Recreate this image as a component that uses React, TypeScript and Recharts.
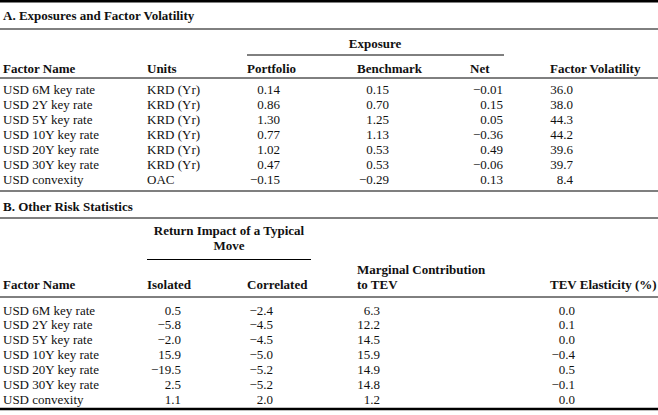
import React from 'react';
import { ScatterChart, Scatter, XAxis, YAxis, ReferenceLine } from 'recharts';

// ---------- data ----------
const factors = ['USD 6M key rate', 'USD 2Y key rate', 'USD 5Y key rate', 'USD 10Y key rate', 'USD 20Y key rate', 'USD 30Y key rate', 'USD convexity'];
const units = ['KRD (Yr)', 'KRD (Yr)', 'KRD (Yr)', 'KRD (Yr)', 'KRD (Yr)', 'KRD (Yr)', 'OAC'];
const portfolio = [0.14, 0.86, 1.3, 0.77, 1.02, 0.47, -0.15];
const benchmark = [0.15, 0.7, 1.25, 1.13, 0.53, 0.53, -0.29];
const net = [-0.01, 0.15, 0.05, -0.36, 0.49, -0.06, 0.13];
const factorVolatility = [36.0, 38.0, 44.3, 44.2, 39.6, 39.7, 8.4];
const isolated = [0.5, -5.8, -2.0, 15.9, -19.5, 2.5, 1.1];
const correlated = [-2.4, -4.5, -4.5, -5.0, -5.2, -5.2, 2.0];
const marginalContribution = [6.3, 12.2, 14.5, 15.9, 14.9, 14.8, 1.2];
const tevElasticity = [0.0, 0.1, 0.0, -0.4, 0.5, -0.1, 0.0];

const titleA = 'A. Exposures and Factor Volatility';
const titleB = 'B. Other Risk Statistics';
const headersA = ['Factor Name', 'Units', 'Portfolio', 'Benchmark', 'Net', 'Factor Volatility'];
const groupA = 'Exposure';
const headersB = ['Factor Name', 'Isolated', 'Correlated', 'to TEV', 'TEV Elasticity (%)'];
const groupB = ['Return Impact of a Typical', 'Move'];
const marginalTop = 'Marginal Contribution';

// ---------- layout ----------
const W = 658;
const H = 415;
const FONT = "'Liberation Serif', 'Times New Roman', serif";

const fmt = (v: number, d: number) => (v < 0 ? '\u2212' : '') + Math.abs(v).toFixed(d);

type Cell = { x: number; y: number; text: string; anchor: 'start' | 'middle' | 'end'; bold?: boolean };

const A = { title: 15, line1: 29, group: 43, partial: 55, header: 68, line2: 78, row0: 89.5, pitch: 15.05, line3: 191 };
const B = { title: 206.5, line1: 218, g1: 230.5, g2: 245, partial: 259.5, mtop: 269.5, header: 284, line2: 297, row0: 310, pitch: 14.9, bottom: 409 };

const cells: Cell[] = [];
cells.push({ x: 3, y: A.title, text: titleA, anchor: 'start', bold: true });
cells.push({ x: 375, y: A.group, text: groupA, anchor: 'middle', bold: true });
const headAX = [3, 147, 247, 357, 470, 550];
headersA.forEach((h, i) => cells.push({ x: headAX[i], y: A.header, text: h, anchor: 'start', bold: true }));
factors.forEach((f, i) => {
  const y = A.row0 + i * A.pitch;
  cells.push({ x: 3, y, text: f, anchor: 'start' });
  cells.push({ x: 147, y, text: units[i], anchor: 'start' });
  cells.push({ x: 280, y, text: fmt(portfolio[i], 2), anchor: 'end' });
  cells.push({ x: 389, y, text: fmt(benchmark[i], 2), anchor: 'end' });
  cells.push({ x: 503, y, text: fmt(net[i], 2), anchor: 'end' });
  cells.push({ x: 573, y, text: fmt(factorVolatility[i], 1), anchor: 'end' });
});

cells.push({ x: 3, y: B.title, text: titleB, anchor: 'start', bold: true });
cells.push({ x: 229, y: B.g1, text: groupB[0], anchor: 'middle', bold: true });
cells.push({ x: 229, y: B.g2, text: groupB[1], anchor: 'middle', bold: true });
cells.push({ x: 357, y: B.mtop, text: marginalTop, anchor: 'start', bold: true });
const headBX = [3, 147, 247, 357, 550];
headersB.forEach((h, i) => cells.push({ x: headBX[i], y: B.header, text: h, anchor: 'start', bold: true }));
factors.forEach((f, i) => {
  const y = B.row0 + i * B.pitch;
  cells.push({ x: 3, y, text: f, anchor: 'start' });
  cells.push({ x: 181, y, text: fmt(isolated[i], 1), anchor: 'end' });
  cells.push({ x: 273, y, text: fmt(correlated[i], 1), anchor: 'end' });
  cells.push({ x: 380, y, text: fmt(marginalContribution[i], 1), anchor: 'end' });
  cells.push({ x: 575, y, text: fmt(tevElasticity[i], 1), anchor: 'end' });
});

const rules = [
  { x1: 0, x2: W, y: 1.2, w: 2.4 },
  { x1: 0, x2: W, y: A.line1, w: 1 },
  { x1: 247, x2: 504, y: A.partial, w: 1 },
  { x1: 0, x2: W, y: A.line2, w: 1 },
  { x1: 0, x2: W, y: A.line3, w: 1.2 },
  { x1: 0, x2: W, y: B.line1, w: 1 },
  { x1: 147, x2: 311, y: B.partial, w: 1 },
  { x1: 0, x2: W, y: B.line2, w: 1 },
  { x1: 0, x2: W, y: B.bottom, w: 2.4 },
];

const CellText = (props: any) => {
  const { cx, cy, payload } = props;
  return (
    <text
      x={cx}
      y={cy}
      textAnchor={payload.anchor}
      dominantBaseline="central"
      fontFamily={FONT}
      fontSize={13}
      fontWeight={payload.bold ? 700 : 400}
      fill="#111"
    >
      {payload.text}
    </text>
  );
};

export default function App() {
  return (
    <div style={{ position: 'absolute', left: 0, top: 0, width: W, height: H, background: '#fff' }}>
      <ScatterChart width={W} height={H} margin={{ top: 0, right: 0, bottom: 0, left: 0 }}>
        <XAxis type="number" dataKey="x" domain={[0, W]} allowDataOverflow hide />
        <YAxis type="number" dataKey="y" domain={[0, H]} allowDataOverflow reversed hide />
        {rules.map((r, i) => (
          <ReferenceLine
            key={i}
            segment={[{ x: r.x1, y: r.y }, { x: r.x2, y: r.y }]}
            stroke="#000"
            strokeWidth={r.w}
            ifOverflow="visible"
          />
        ))}
        <Scatter data={cells} dataKey="y" shape={CellText} isAnimationActive={false} />
      </ScatterChart>
    </div>
  );
}
